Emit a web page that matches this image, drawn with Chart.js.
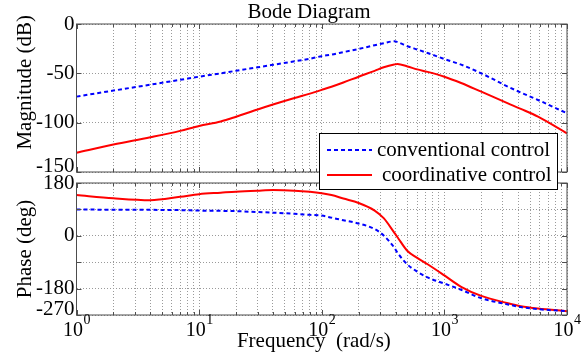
<!DOCTYPE html>
<html>
<head>
<meta charset="utf-8">
<script src="https://cdn.jsdelivr.net/npm/chart.js@4.4.1/dist/chart.umd.min.js"></script>
<style>
  html, body { margin: 0; padding: 0; background: #fff; }
  #wrap { position: relative; width: 583px; height: 358px; }
  #wrap canvas { position: absolute; left: 0; top: 0; }
</style>
</head>
<body>
<div id="wrap">
  <canvas id="magChart" width="583" height="358"></canvas>
  <canvas id="phaseChart" width="583" height="358"></canvas>
</div>
<script>
// frequencies (rad/s)
const freq = [1, 2, 4, 7, 10, 15, 20, 30, 40, 60, 80, 100, 120, 150, 200, 270, 320, 390, 415, 500, 600, 730, 1000, 1370, 2000, 3300, 4200, 5800, 10000];

// magnitude (dB)
const convMag = [-73.6, -67.5, -61.5, -56.6, -53.4, -50.0, -47.4, -43.9, -41.4, -37.8, -35.2, -32.6, -31.0, -28.5, -25.3, -21.5, -19.5, -17.5, -18.3, -22.5, -25.8, -29.4, -35.5, -41.2, -50.0, -63.5, -69.5, -77.0, -90.5];
const coordMag = [-130.4, -122.2, -114.8, -108.3, -103.3, -98.8, -94.0, -86.6, -81.6, -75.0, -70.6, -66.8, -63.6, -59.3, -53.4, -47.5, -43.9, -41.0, -40.5, -43.0, -46.0, -48.5, -53.4, -59.8, -68.6, -80.4, -86.0, -93.9, -110.8];

// phase (deg)
const convPhase = [89.5, 89.0, 88.5, 87.5, 86.0, 85.0, 84.0, 81.0, 79.0, 75.0, 71.5, 69.0, 62.0, 53.0, 42.0, 23.0, 1.0, -40.0, -58.0, -98.0, -122.0, -142.0, -163.0, -184.0, -213.0, -234.0, -243.0, -250.0, -257.0];
const coordPhase = [139, 128, 121.5, 133, 142, 147, 150.5, 154, 156, 154, 150, 145, 139, 127, 112, 86, 60, 11, -5, -52, -75, -97, -135, -174, -205, -230, -240, -248, -257];

const seriesNames = ['conventional control', 'coordinative control'];

// tick labels
const decades = [1, 10, 100, 1000, 10000];
const decadeExps = ['0', '1', '2', '3', '4'];
const magTicks = [0, -50, -100, -150];
const magLabels = ['0', '-50', '-100', '-150'];
const phaseTicks = [180, 90, 0, -90, -180, -270];
const phaseLabels = ['180', '', '0', '', '-180', '-270'];

const gridFreqs = [];
decades.forEach(d => {
    for (let k = 1; k < 10; k++) {
        if (d * k <= 10000) gridFreqs.push(d * k);
    }
});

const serif = '"Liberation Serif", "Times New Roman", serif';
Chart.defaults.font.family = serif;
Chart.defaults.font.size = 21;
Chart.defaults.color = '#000';

const gridColor = '#9a9a9a';

function points(ys) {
    return freq.map((f, i) => ({ x: f, y: ys[i] }));
}

function freqAxis(showTitle) {
    return {
        type: 'logarithmic',
        min: 1,
        max: 10000,
        afterBuildTicks: s => { s.ticks = gridFreqs.map(v => ({ value: v })); },
        afterFit: s => { s.height = showTitle ? 43 : 0; },
        grid: { color: gridColor, drawTicks: false },
        border: { display: false, dash: [1, 2] },
        ticks: { display: false, autoSkip: false },
        title: {
            display: showTitle,
            text: 'Frequency  (rad/s)   ',
            padding: { top: 0, bottom: 4 }
        }
    };
}

function valueAxis(min, max, tickVals, titleText) {
    return {
        min: min,
        max: max,
        afterBuildTicks: s => { s.ticks = tickVals.map(v => ({ value: v })); },
        afterFit: s => { s.width = 64; },
        grid: { color: gridColor, drawTicks: false },
        border: { display: false, dash: [1, 2] },
        ticks: { display: false, autoSkip: false },
        title: { display: true, text: titleText, padding: { top: 0, bottom: 0 } }
    };
}

const framePlugin = {
    id: 'frame',
    afterDraw(chart) {
        const { ctx, chartArea: a, scales } = chart;
        ctx.save();
        ctx.strokeStyle = '#4d4d4d';
        ctx.lineWidth = 1;
        ctx.beginPath();
        scales.x.ticks.forEach(t => {
            const x = Math.round(scales.x.getPixelForValue(t.value)) + 0.5;
            const len = decades.includes(t.value) ? 5 : 3;
            ctx.moveTo(x, a.top); ctx.lineTo(x, a.top + len);
            ctx.moveTo(x, a.bottom); ctx.lineTo(x, a.bottom - len);
        });
        scales.y.ticks.forEach(t => {
            const y = Math.round(scales.y.getPixelForValue(t.value)) + 0.5;
            ctx.moveTo(a.left, y); ctx.lineTo(a.left + 5, y);
            ctx.moveTo(a.right, y); ctx.lineTo(a.right - 5, y);
        });
        ctx.stroke();
        ctx.strokeRect(a.left, a.top, a.right - a.left, a.bottom - a.top);
        ctx.restore();
    }
};

// y labels, kept inside the box height like MATLAB does
function yLabelPlugin(tickVals, tickLabels) {
    return {
        id: 'yLabels',
        afterDraw(chart) {
            const { ctx, chartArea: a, scales: { y } } = chart;
            ctx.save();
            ctx.font = '21px ' + serif;
            ctx.fillStyle = '#000';
            ctx.textAlign = 'right';
            ctx.textBaseline = 'middle';
            tickVals.forEach((v, i) => {
                const py = Math.min(y.getPixelForValue(v), a.bottom - 6);
                ctx.fillText(tickLabels[i], a.left - 2, py);
            });
            ctx.restore();
        }
    };
}

// 10^n labels with a raised exponent
const decadeLabelPlugin = {
    id: 'decadeLabels',
    afterDraw(chart) {
        const { ctx, scales: { x } } = chart;
        ctx.save();
        ctx.fillStyle = '#000';
        ctx.textAlign = 'left';
        ctx.textBaseline = 'alphabetic';
        decades.forEach((d, i) => {
            const px = x.getPixelForValue(d);
            ctx.font = '20px ' + serif;
            const w1 = ctx.measureText('10').width;
            ctx.font = '14px ' + serif;
            const w2 = ctx.measureText(decadeExps[i]).width;
            const sx = px - (w1 + w2) / 2;
            ctx.font = '20px ' + serif;
            ctx.fillText('10', sx, 336);
            ctx.font = '14px ' + serif;
            ctx.fillText(decadeExps[i], sx + w1 + 0.5, 324);
        });
        ctx.restore();
    }
};

const titlePlugin = {
    id: 'bodeTitle',
    afterDraw(chart) {
        const ctx = chart.ctx;
        ctx.save();
        ctx.font = '21px ' + serif;
        ctx.fillStyle = '#000';
        ctx.textAlign = 'center';
        ctx.textBaseline = 'middle';
        ctx.fillText('Bode Diagram', 309, 12);
        ctx.restore();
    }
};

const legendPlugin = {
    id: 'boxLegend',
    afterDraw(chart) {
        const ctx = chart.ctx;
        const ds = chart.data.datasets;
        ctx.save();
        ctx.fillStyle = '#fff';
        ctx.fillRect(319.5, 133.5, 238, 56);
        ctx.strokeStyle = '#000';
        ctx.lineWidth = 1;
        ctx.strokeRect(319.5, 133.5, 238, 56);
        const rows = [150, 175];
        const textX = [377, 382];
        ctx.font = '21px ' + serif;
        ctx.textBaseline = 'middle';
        ds.forEach((d, i) => {
            ctx.strokeStyle = d.borderColor;
            ctx.lineWidth = 2;
            ctx.setLineDash(d.borderDash || []);
            ctx.beginPath();
            ctx.moveTo(327, rows[i]);
            ctx.lineTo(372, rows[i]);
            ctx.stroke();
            ctx.setLineDash([]);
            ctx.fillStyle = '#000';
            ctx.fillText(d.label, textX[i], rows[i]);
        });
        ctx.restore();
    }
};

const commonOpts = {
    responsive: false,
    animation: false,
    devicePixelRatio: 1,
    plugins: { legend: { display: false }, tooltip: { enabled: false }, title: { display: false } },
    elements: { point: { radius: 0 }, line: { tension: 0.3, cubicInterpolationMode: 'monotone' } }
};

new Chart(document.getElementById('magChart'), {
    type: 'line',
    data: {
        datasets: [
            { label: seriesNames[0], data: points(convMag), borderColor: '#0000ff', borderDash: [4, 3], borderWidth: 2 },
            { label: seriesNames[1], data: points(coordMag), borderColor: '#ff0000', borderWidth: 2 }
        ]
    },
    options: {
        ...commonOpts,
        layout: { padding: { left: 12.5, right: 16, top: 24, bottom: 186 } },
        scales: {
            x: freqAxis(false),
            y: valueAxis(-150, 0, magTicks, '      Magnitude (dB)')
        }
    },
    plugins: [framePlugin, yLabelPlugin(magTicks, magLabels), titlePlugin]
});

new Chart(document.getElementById('phaseChart'), {
    type: 'line',
    data: {
        datasets: [
            { label: seriesNames[0], data: points(convPhase), borderColor: '#0000ff', borderDash: [4, 3], borderWidth: 2 },
            { label: seriesNames[1], data: points(coordPhase), borderColor: '#ff0000', borderWidth: 2 }
        ]
    },
    options: {
        ...commonOpts,
        layout: { padding: { left: 12.5, right: 16, top: 183, bottom: 0 } },
        scales: {
            x: freqAxis(true),
            y: valueAxis(-270, 180, phaseTicks, 'Phase (deg)')
        }
    },
    plugins: [framePlugin, yLabelPlugin(phaseTicks, phaseLabels), decadeLabelPlugin, legendPlugin]
});
</script>
</body>
</html>
